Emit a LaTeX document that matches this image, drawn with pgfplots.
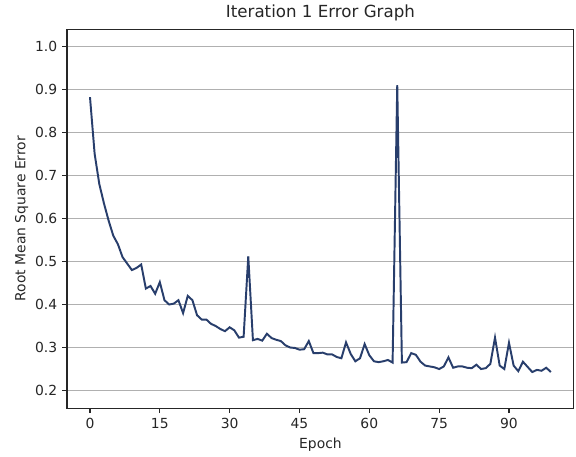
\documentclass[border=0pt]{standalone}
\usepackage{fontspec}
\setmainfont{DejaVu Sans}
\usepackage{pgfplots}
\pgfplotsset{compat=1.18}
\definecolor{linec}{RGB}{40,62,108}
\definecolor{gridc}{RGB}{176,176,176}
\begin{document}
\begin{tikzpicture}
\begin{axis}[
  scale only axis,
  width=365pt, height=272.9pt,
  xmin=-4.95, xmax=103.95,
  ymin=0.159, ymax=1.04,
  xtick={0,15,30,45,60,75,90},
  ytick={0.2,0.3,0.4,0.5,0.6,0.7,0.8,0.9,1.0},
  yticklabel style={/pgf/number format/.cd,fixed,fixed zerofill,precision=1},
  /pgf/number format/assume math mode=true,
  tick label style={font=\fontsize{10}{12}\selectfont, text=black!85},
  label style={font=\fontsize{10}{12}\selectfont, text=black!85},
  ylabel style={yshift=-2pt},
  title style={font=\fontsize{12}{14}\selectfont, text=black!85, yshift=-3.5pt},
  title={Iteration 1 Error Graph},
  xlabel={Epoch},
  ylabel={Root Mean Square Error},
  tick align=outside,
  major tick length=3.5pt,
  xtick pos=bottom, ytick pos=left,
  ymajorgrids,
  grid style={gridc, line width=0.8pt},
  axis line style={black!85, line width=0.8pt},
  every tick/.style={black!85, line width=0.8pt},
  axis background/.style={fill=white},
]
\addplot[linec, line width=1.4pt, mark=none] coordinates {
(0,0.882)(1,0.750)(2,0.680)(3,0.635)(4,0.595)(5,0.560)(6,0.540)(7,0.510)(8,0.495)(9,0.480)
(10,0.485)(11,0.493)(12,0.437)(13,0.443)(14,0.425)(15,0.452)(16,0.410)(17,0.400)(18,0.402)(19,0.410)
(20,0.380)(21,0.420)(22,0.410)(23,0.375)(24,0.365)(25,0.365)(26,0.355)(27,0.350)(28,0.343)(29,0.338)
(30,0.347)(31,0.340)(32,0.323)(33,0.325)(34,0.512)(35,0.317)(36,0.320)(37,0.316)(38,0.332)(39,0.322)
(40,0.318)(41,0.315)(42,0.305)(43,0.300)(44,0.299)(45,0.295)(46,0.296)(47,0.315)(48,0.287)(49,0.287)
(50,0.288)(51,0.284)(52,0.284)(53,0.278)(54,0.275)(55,0.312)(56,0.285)(57,0.268)(58,0.275)(59,0.308)
(60,0.282)(61,0.268)(62,0.266)(63,0.268)(64,0.271)(65,0.265)(66,0.910)(67,0.265)(68,0.266)(69,0.287)
(70,0.283)(71,0.267)(72,0.258)(73,0.256)(74,0.254)(75,0.250)(76,0.256)(77,0.277)(78,0.253)(79,0.256)
(80,0.256)(81,0.253)(82,0.252)(83,0.260)(84,0.250)(85,0.252)(86,0.262)(87,0.323)(88,0.258)(89,0.250)
(90,0.311)(91,0.258)(92,0.245)(93,0.267)(94,0.255)(95,0.243)(96,0.248)(97,0.246)(98,0.253)(99,0.243)
};
\end{axis}
\path[use as bounding box] (-48.2pt,-33.8pt) rectangle (366.5pt,293.8pt);
\end{tikzpicture}
\end{document}
